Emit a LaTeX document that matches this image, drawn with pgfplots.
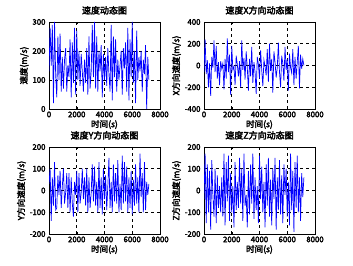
\documentclass[border=0pt]{standalone}
\usepackage{pgfplots}
\pgfplotsset{compat=1.18}
\usepackage{pgfplotstable}
\usepackage{fontspec}
\setmainfont{Noto Sans CJK SC}[AutoFakeBold=3]
\pgfplotstableread{
t s vx vy vz
0 130 -60 30 -40
80 280 240 100 170
160 150 -80 -140 -150
240 290 50 60 120
320 20 -200 -70 -100
400 300 20 130 90
480 120 -280 -90 -180
560 40 80 -80 140
640 250 -20 70 -20
720 100 230 -20 -120
800 260 -60 90 100
880 60 180 -80 -150
960 180 -120 20 70
1040 70 30 100 -80
1120 170 -180 -60 20
1200 210 40 -10 -100
1280 60 -30 80 60
1360 150 20 -80 -120
1440 110 -220 80 170
1520 240 60 -100 -160
1600 40 -120 60 130
1680 230 250 -60 -50
1760 90 -60 -120 160
1840 280 100 40 -140
1920 50 -270 -20 80
2000 270 180 90 -100
2080 100 -40 -100 20
2160 200 -10 80 -170
2240 80 -180 -60 130
2320 190 90 -10 -90
2400 130 10 100 40
2480 60 -100 -40 -80
2560 170 40 60 150
2640 90 -200 -70 -60
2720 210 230 100 100
2800 50 -40 -100 -140
2880 250 70 60 170
2960 70 -130 -80 -70
3040 130 130 -10 -20
3120 290 -20 120 -170
3200 110 -230 -50 90
3280 300 60 110 -110
3360 70 -100 -70 120
3440 250 170 40 -60
3520 60 -160 -100 170
3600 200 30 130 -130
3680 130 -60 -80 60
3760 220 -260 60 -90
3840 40 80 -110 20
3920 190 10 100 -150
4000 100 -120 -40 160
4080 180 140 70 -40
4160 80 -40 -90 110
4240 210 -190 20 -100
4320 120 50 150 40
4400 60 -10 -80 -170
4480 290 -90 40 120
4560 30 150 -100 -70
4640 250 -150 120 150
4720 110 200 -50 -120
4800 240 -50 80 50
4880 60 60 -60 -160
4960 170 -250 140 100
5040 100 130 -100 -40
5120 150 30 30 150
5200 200 -110 -90 -180
5280 50 -20 160 60
5360 210 210 -60 -90
5440 140 -60 130 140
5520 230 -200 -50 -110
5600 60 90 110 70
5680 280 20 -100 -150
5760 30 -140 60 120
5840 240 170 -80 -20
5920 110 -40 90 100
6000 300 60 -110 -120
6080 90 -230 50 40
6160 200 110 -70 -160
6240 20 -20 120 170
6320 270 -70 -60 -90
6400 100 150 60 90
6480 180 -180 -100 -190
6560 130 80 170 130
6640 200 -120 -30 -80
6720 60 30 80 160
6800 170 180 -100 -100
6880 120 -210 130 60
6960 220 100 -90 -140
7040 0 -30 40 80
7120 180 60 -20 -30
7200 100 0 30 60
}\datatable
\pgfplotsset{
  every axis/.append style={
    scale only axis, width=111pt, height=87pt,
    xmin=0, xmax=8000, xtick={0,2000,4000,6000,8000},
    grid=major, major grid style={dashed, black, line width=0.6pt},
    axis line style={black, line width=0.8pt},
    tick align=inside, major tick length=2pt,
    tick style={black, line width=0.5pt},
    /pgf/number format/assume math mode=true,
    /pgf/number format/set thousands separator={},
    scaled ticks=false,
    tick label style={font=\bfseries\fontsize{7.8}{8}\selectfont},
    xticklabel style={yshift=1pt},
    label style={font=\bfseries\fontsize{8.5}{9}\selectfont},
    title style={font=\bfseries\fontsize{9}{10}\selectfont, yshift=-2pt},
    xlabel={时间(s)},
    xlabel style={yshift=4pt},
    ylabel style={yshift=-3pt},
  },
}
\begin{document}
\begin{tikzpicture}
\useasboundingbox (0,0) rectangle (353pt,265pt);
\begin{axis}[at={(49pt,156pt)}, anchor=south west, ymin=0, ymax=300, ytick={0,100,200,300},
  title={速度动态图}, ylabel={速度(m/s)}]
\addplot[blue, line width=0.7pt] table[x=t, y=s] {\datatable};
\end{axis}
\begin{axis}[at={(204pt,156pt)}, anchor=south west, ymin=-400, ymax=400, ytick={-400,-200,0,200,400},
  title={速度X方向动态图}, ylabel={X方向速度(m/s)}]
\addplot[blue, line width=0.7pt] table[x=t, y=vx] {\datatable};
\end{axis}
\begin{axis}[at={(49pt,31pt)}, anchor=south west, ymin=-200, ymax=200, ytick={-200,-100,0,100,200},
  title={速度Y方向动态图}, ylabel={Y方向速度(m/s)}]
\addplot[blue, line width=0.7pt] table[x=t, y=vy] {\datatable};
\end{axis}
\begin{axis}[at={(204pt,31pt)}, anchor=south west, ymin=-200, ymax=200, ytick={-200,-100,0,100,200},
  title={速度Z方向动态图}, ylabel={Z方向速度(m/s)}]
\addplot[blue, line width=0.7pt] table[x=t, y=vz] {\datatable};
\end{axis}
\end{tikzpicture}
\end{document}
